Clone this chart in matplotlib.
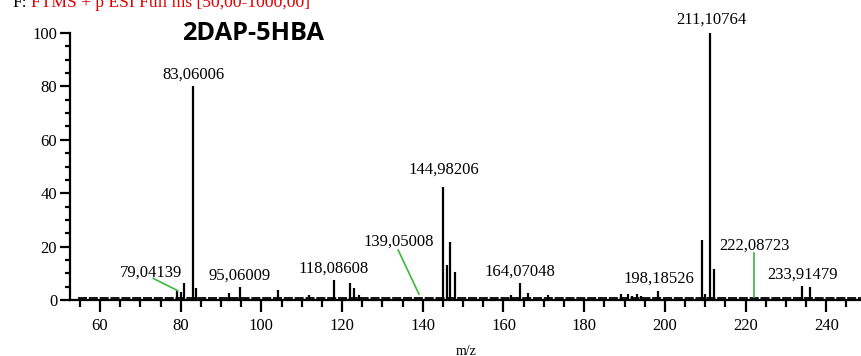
import matplotlib.pyplot as plt
from matplotlib.ticker import MultipleLocator

# peak list (m/z, relative abundance)
mz = [79.04, 80.0, 80.9, 83.06, 83.9, 91.9, 94.8, 104.1, 111.9, 118.09,
      122.0, 122.9, 124.1, 144.98, 145.9, 146.7, 147.9, 161.9, 164.07, 166.0,
      171.0, 189.0, 190.8, 191.9, 193.1, 194.1, 198.19, 209.2, 210.0, 211.11,
      212.1, 233.91, 235.9]
intensity = [3.5, 3.0, 6.3, 80, 4.4, 2.5, 5.0, 3.7, 1.7, 7.6,
             6.2, 4.4, 1.9, 42.5, 13.1, 21.6, 10.4, 1.9, 6.2, 2.5,
             1.9, 2.2, 2.2, 1.6, 2.2, 1.6, 3.5, 22.6, 2.4, 100,
             11.5, 5.4, 5.0]

# labelled peaks
label_text = ['79,04139', '83,06006', '95,06009', '118,08608', '139,05008',
              '144,98206', '164,07048', '198,18526', '211,10764', '222,08723',
              '233,91479']
label_x = [72.6, 83.3, 94.7, 118.0, 134.1, 145.3, 164.1, 198.5, 211.4, 222.1, 234.0]
label_y = [8.7, 82.8, 7.5, 10.2, 20.2, 47.2, 9.0, 6.5, 103.6, 19.0, 8.1]

serif = 'Liberation Serif'

fig = plt.figure(figsize=(8.62, 3.56), dpi=100)
ax = fig.add_axes([70 / 862, 1 - 300 / 356, 1 - 70 / 862, (300 - 33) / 356])

# noise baseline
ax.plot([54.5, 248.8], [0.6, 0.6], color='black', lw=1.3, ls=(0, (5, 1)))
ax.vlines(mz, 0, intensity, color='black', lw=1.6)

# green leader lines
ax.plot([73.2, 79.26], [8.1, 3.5], color='#3cb83c', lw=1.2)
ax.plot([133.9, 139.05], [18.7, 2.2], color='#3cb83c', lw=1.2)
ax.plot([222.09, 222.09], [1.3, 17.5], color='#3cb83c', lw=1.2)

for t, x, y in zip(label_text, label_x, label_y):
    ax.text(x, y, t, ha='center', va='baseline', fontsize=12, family=serif,
            clip_on=False)

ax.set_xlim(52.57, 248.85)
ax.set_ylim(0, 100)
ax.spines['top'].set_visible(False)
ax.spines['right'].set_visible(False)
for s in ['left', 'bottom']:
    ax.spines[s].set_linewidth(1.6)

ax.xaxis.set_major_locator(MultipleLocator(20))
ax.xaxis.set_minor_locator(MultipleLocator(5))
ax.yaxis.set_major_locator(MultipleLocator(20))
ax.yaxis.set_minor_locator(MultipleLocator(5))
ax.tick_params(axis='x', which='major', length=8.6, width=1.6, labelsize=12, pad=4)
ax.tick_params(axis='x', which='minor', length=5, width=1.6)
ax.tick_params(axis='y', which='major', length=7.2, width=1.6, labelsize=12, pad=2)
ax.tick_params(axis='y', which='minor', length=3.6, width=1.6)
for lbl in ax.get_xticklabels() + ax.get_yticklabels():
    lbl.set_family(serif)

ax.set_xlabel('m/z', family=serif, fontsize=10, labelpad=8)

fig.text(253 / 862, 1 - 34 / 356, '2DAP-5HBA', ha='center', va='center',
         fontsize=18.3, fontweight='bold', family='Open Sans')
fig.text(12 / 862, 1 - 7 / 356, 'F:', ha='left', va='baseline',
         fontsize=12.6, family=serif, color='black')
fig.text(31 / 862, 1 - 7 / 356, 'FTMS + p ESI Full ms [50,00-1000,00]',
         ha='left', va='baseline', fontsize=12.6, family=serif, color='#e00000')

fig.savefig('out.png', dpi=100)
